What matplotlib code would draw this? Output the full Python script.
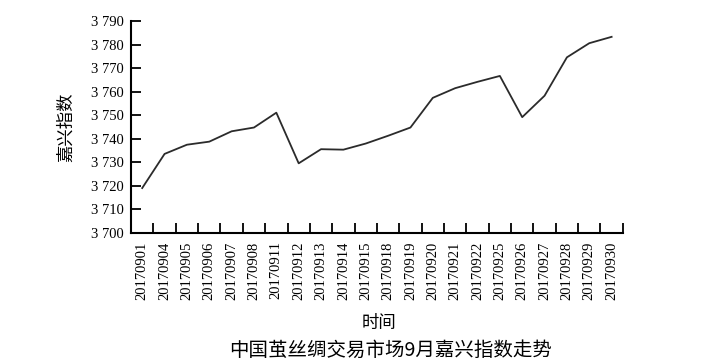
import matplotlib
matplotlib.use("Agg")
import matplotlib.pyplot as plt
from matplotlib.ticker import FixedLocator, FuncFormatter
import numpy as np

dates = ["20170901", "20170904", "20170905", "20170906", "20170907", "20170908",
         "20170911", "20170912", "20170913", "20170914", "20170915", "20170918",
         "20170919", "20170920", "20170921", "20170922", "20170925", "20170926",
         "20170927", "20170928", "20170929", "20170930"]
index = [3719.1, 3733.6, 3737.5, 3738.8, 3743.2, 3744.8,
         3751.1, 3729.6, 3735.6, 3735.4, 3738.0, 3741.3,
         3744.8, 3757.4, 3761.5, 3764.2, 3766.7, 3749.2,
         3758.3, 3774.6, 3780.6, 3783.3]
y_ticks = list(range(3700, 3791, 10))

serif = ["Liberation Serif", "DejaVu Serif"]
cjk = ["Noto Sans CJK SC", "DejaVu Sans"]

fig = plt.figure(figsize=(7.2, 3.63), dpi=100)
ax = fig.add_axes([0.182, 0.358, 0.683, 0.584])

x = np.arange(len(dates))
ax.plot(x, index, color="#2b2b2b", linewidth=1.3)

ax.set_xlim(-0.5, len(dates) - 0.5)
ax.set_ylim(3700, 3790)

# labels at category centres, tick marks on category boundaries
ax.set_xticks(x)
ax.set_xticklabels(dates, rotation=90, family=serif, fontsize=10.5)
ax.xaxis.set_minor_locator(FixedLocator(np.arange(len(dates) + 1) - 0.5))
ax.tick_params(axis="x", which="major", length=0, pad=6)
ax.tick_params(axis="x", which="minor", direction="in", length=7, width=1.3)

ax.set_yticks(y_ticks)
ax.yaxis.set_major_formatter(FuncFormatter(lambda v, p: f"{int(v):,}".replace(",", " ")))
for lab in ax.get_yticklabels():
    lab.set_family(serif)
    lab.set_fontsize(10.5)
ax.tick_params(axis="y", direction="in", length=7, width=1.3, pad=5)

for s in ("top", "right"):
    ax.spines[s].set_visible(False)
for s in ("left", "bottom"):
    ax.spines[s].set_linewidth(1.5)

ax.set_ylabel("嘉兴指数", family=cjk, fontsize=12.5, labelpad=12)
fig.text(0.527, 0.11, "时间", family=cjk, fontsize=12.5, ha="center", va="center")
fig.text(0.543, 0.034, "中国茧丝绸交易市场9月嘉兴指数走势", family=cjk,
         fontsize=14, ha="center", va="center")

fig.savefig("out.png", dpi=100)
